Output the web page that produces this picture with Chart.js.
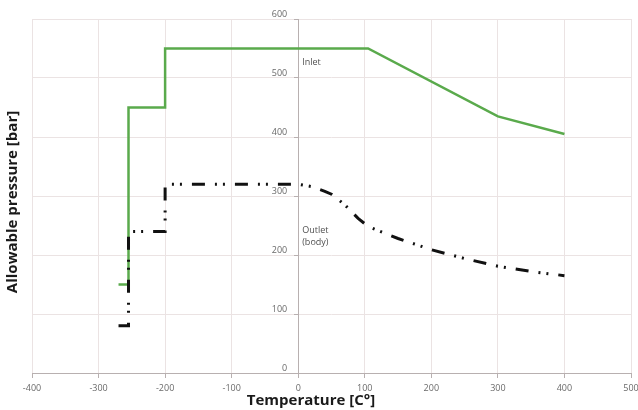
<!DOCTYPE html>
<html>
<head>
<meta charset="utf-8">
<script src="https://cdn.jsdelivr.net/npm/chart.js@4/dist/chart.umd.min.js"></script>
<style>
  html, body { margin: 0; padding: 0; background: #ffffff; }
  #wrap { width: 638px; height: 410px; }
</style>
</head>
<body>
<div id="wrap"><canvas id="c" width="638" height="410"></canvas></div>
<script>
// Data
const inletTemp   = [-270, -255, -255, -200, -200, 105, 300, 400];
const inletPress  = [150, 150, 450, 450, 550, 550, 435, 405];

const outletTemp  = [-270, -255, -255, -200, -200, 0, 20, 40, 50, 70, 90, 100, 110, 150, 200, 250, 300, 350, 400];
const outletPress = [80, 80, 240, 240, 320, 320, 316, 308, 303, 285, 262, 253, 246, 228, 209, 194, 181, 172, 165];

const xTickMin = -400, xTickMax = 500, xStep = 100;
const yTickMin = 0, yTickMax = 600, yStep = 100;

const xTitle = 'Temperature [C°]';
const yTitle = 'Allowable pressure [bar]';
const seriesLabels = [
  { text: ['Inlet'], x: 6, y: 527 },
  { text: ['Outlet', '(body)'], x: 6, y: 241 }
];

const toPoints = (xs, ys) => xs.map((x, i) => ({ x: x, y: ys[i] }));

// shift tick labels away from the axis line (positioned-axis labels ignore padding)
const labelShiftPlugin = {
  id: 'labelShift',
  afterUpdate(chart) {
    const shifts = { x: [0, 2], y: [-11, 0] };
    Object.keys(shifts).forEach(id => {
      const s = chart.scales[id];
      if (!s || s.__shifted) return;
      const orig = s.drawLabels;
      s.drawLabels = function (area) {
        const ctx = this.ctx;
        ctx.save();
        ctx.translate(shifts[id][0], shifts[id][1]);
        orig.call(this, area);
        ctx.restore();
      };
      s.__shifted = true;
    });
  }
};

const titlePlugin = {
  id: 'titles',
  afterDraw(chart) {
    const ctx = chart.ctx;
    const xs = chart.scales.x, ys = chart.scales.y;
    ctx.save();
    ctx.fillStyle = '#1a1a1a';
    ctx.textAlign = 'center';
    ctx.textBaseline = 'middle';
    ctx.font = 'bold 15px "Open Sans"';
    ctx.fillText(xTitle, 311, 401);
    ctx.translate(13, 202);
    ctx.rotate(-Math.PI / 2);
    ctx.fillText(yTitle, 0, 0);
    ctx.restore();

    ctx.save();
    ctx.fillStyle = '#505050';
    ctx.font = '9px "Open Sans"';
    ctx.textAlign = 'left';
    ctx.textBaseline = 'middle';
    seriesLabels.forEach(l => {
      const px = xs.getPixelForValue(l.x);
      const py = ys.getPixelForValue(l.y);
      l.text.forEach((t, i) => ctx.fillText(t, px, py + i * 12));
    });
    ctx.restore();
  }
};

const zeroPad = (scale) => {
  scale.paddingLeft = 0; scale.paddingRight = 0;
  scale.paddingTop = 0; scale.paddingBottom = 0;
};

new Chart(document.getElementById('c'), {
  type: 'scatter',
  data: {
    datasets: [
      {
        label: 'Outlet (body)',
        data: toPoints(outletTemp, outletPress),
        showLine: true,
        borderColor: '#111111',
        borderWidth: 3,
        borderDash: [13, 10, 2, 6, 2, 10],
        borderCapStyle: 'butt',
        pointRadius: 0,
        tension: 0,
        fill: false,
        order: 0
      },
      {
        label: 'Inlet',
        data: toPoints(inletTemp, inletPress),
        showLine: true,
        borderColor: '#5aaa4c',
        borderWidth: 2.5,
        pointRadius: 0,
        tension: 0,
        fill: false,
        order: 1
      }
    ]
  },
  options: {
    responsive: false,
    animation: false,
    devicePixelRatio: 1,
    layout: { padding: { left: 32, right: 7, top: 19, bottom: 37 } },
    plugins: {
      legend: { display: false },
      tooltip: { enabled: false }
    },
    scales: {
      x: {
        type: 'linear',
        position: { y: 0 },
        min: xTickMin, max: xTickMax,
        afterFit: zeroPad,
        ticks: {
          stepSize: xStep,
          color: '#6a6a6a',
          font: { family: '"Open Sans"', size: 9 },
          padding: 4,
          maxRotation: 0
        },
        grid: { color: '#ebe3e3', lineWidth: 1, tickLength: 4, tickColor: '#b8b0b0' },
        border: { color: '#b8b0b0', width: 1 }
      },
      y: {
        type: 'linear',
        position: { x: 0 },
        min: yTickMin, max: yTickMax,
        afterFit: zeroPad,
        ticks: {
          stepSize: yStep,
          color: '#6a6a6a',
          font: { family: '"Open Sans"', size: 9 },
          padding: 8,
          labelOffset: -5
        },
        grid: { color: '#ebe3e3', lineWidth: 1, tickLength: 4, tickColor: '#b8b0b0' },
        border: { color: '#b8b0b0', width: 1 }
      }
    }
  },
  plugins: [labelShiftPlugin, titlePlugin]
});
</script>
</body>
</html>
